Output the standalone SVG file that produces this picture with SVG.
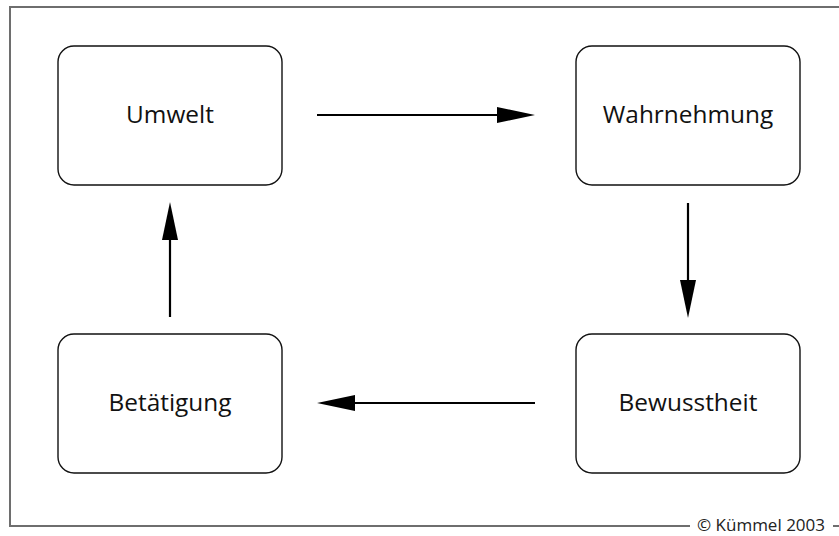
<svg xmlns="http://www.w3.org/2000/svg" width="839" height="536" viewBox="0 0 839 536">
  <style>
    .frame { fill: none; stroke: #6e6e6e; stroke-width: 2; }
    .box { fill: #ffffff; stroke: #111111; stroke-width: 1.4; }
    .label { font-family: "Open Sans", "Noto Sans", sans-serif; font-size: 24.4px; fill: #111111; text-anchor: middle; }
    .wire { stroke: #000000; stroke-width: 2.2; fill: none; }
    .head { fill: #000000; stroke: none; }
    .credit { font-family: "Open Sans", "Noto Sans", sans-serif; font-size: 17px; fill: #222222; }
  </style>

  <rect width="839" height="536" fill="#ffffff"/>

  <!-- outer frame: top, left and bottom edges, bottom broken by the credit line -->
  <g id="frame">
    <polyline class="frame" points="839,7 10,7 10,526 690,526"/>
    <line class="frame" x1="833" y1="526" x2="839" y2="526"/>
    <text class="credit" x="697" y="531">© Kümmel 2003</text>
  </g>

  <g id="node-umwelt">
    <rect class="box" x="58" y="46" width="224" height="139" rx="16"/>
    <text class="label" x="170" y="123">Umwelt</text>
  </g>

  <g id="node-wahrnehmung">
    <rect class="box" x="576" y="46" width="224" height="139" rx="16"/>
    <text class="label" x="688" y="123">Wahrnehmung</text>
  </g>

  <g id="node-bewusstheit">
    <rect class="box" x="576" y="334" width="224" height="139" rx="16"/>
    <text class="label" x="688" y="411">Bewusstheit</text>
  </g>

  <g id="node-betaetigung">
    <rect class="box" x="58" y="334" width="224" height="139" rx="16"/>
    <text class="label" x="170" y="411">Betätigung</text>
  </g>

  <g id="connectors">
    <!-- Umwelt -> Wahrnehmung -->
    <line class="wire" x1="317" y1="115" x2="500" y2="115"/>
    <polygon class="head" points="535,115 497,107 497,123"/>
    <!-- Wahrnehmung -> Bewusstheit -->
    <line class="wire" x1="688" y1="203" x2="688" y2="283"/>
    <polygon class="head" points="688,318 680,280 696,280"/>
    <!-- Bewusstheit -> Betaetigung -->
    <line class="wire" x1="535" y1="403" x2="352" y2="403"/>
    <polygon class="head" points="317,403 355,395 355,411"/>
    <!-- Betaetigung -> Umwelt -->
    <line class="wire" x1="170" y1="317" x2="170" y2="237"/>
    <polygon class="head" points="170,202 162,240 178,240"/>
  </g>
</svg>
